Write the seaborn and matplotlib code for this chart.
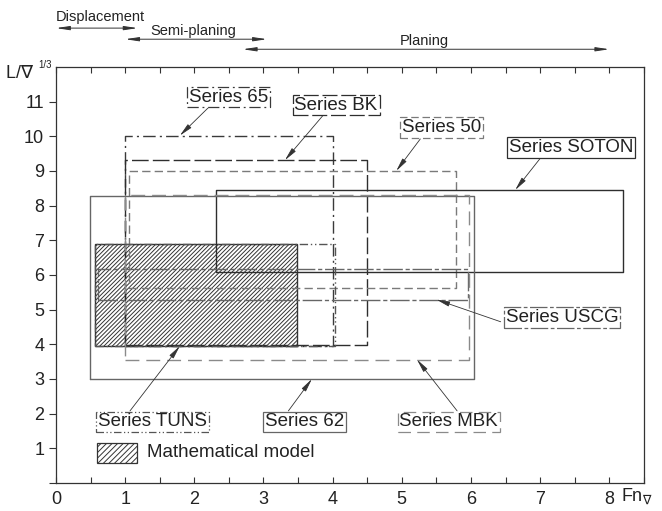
import matplotlib
matplotlib.use('Agg')
import matplotlib.pyplot as plt
from matplotlib.patches import Rectangle
import seaborn as sns

# ranges of the test series (Fn_vol and L/vol^1/3)
series = ['Series 65', 'Series BK', 'Series 50', 'Series SOTON',
          'Series USCG', 'Series 62', 'Series MBK', 'Series TUNS']
fn_min = [1.0, 1.0, 1.06, 2.31, 0.6, 0.49, 1.0, 0.56]
fn_max = [4.0, 4.5, 5.79, 8.2, 5.95, 6.05, 5.97, 4.04]
lv_min = [3.96, 3.99, 5.63, 6.1, 5.29, 3.0, 3.56, 3.95]
lv_max = [10.02, 9.31, 9.0, 8.45, 6.18, 8.27, 8.3, 6.88]

# mathematical model range
model_fn = [0.56, 3.49]
model_lv = [3.94, 6.88]

# speed regimes
regimes = ['Displacement', 'Semi-planing', 'Planing']
regime_from = [0.0, 1.0, 2.7]
regime_to = [1.18, 3.05, 8.0]

x_ticks = [0, 1, 2, 3, 4, 5, 6, 7, 8]
y_ticks = [0, 1, 2, 3, 4, 5, 6, 7, 8, 9, 10, 11]

# drawing styles per series
styles = {
    'Series 65': ('#3a3a3a', (0, (9, 3, 1.5, 3))),
    'Series BK': ('#2e2e2e', (0, (12, 3))),
    'Series 50': ('#7a7a7a', (0, (6, 3))),
    'Series SOTON': ('#2e2e2e', '-'),
    'Series USCG': ('#666666', (0, (14, 2, 3, 2))),
    'Series 62': ('#666666', '-'),
    'Series MBK': ('#8a8a8a', (0, (10, 5))),
    'Series TUNS': ('#555555', (0, (6, 2, 1, 2, 1, 2))),
}
# label centre, arrow tail and arrow tip
labels_at = {
    'Series 65': ((2.5, 11.13), (2.2, 10.82), (1.79, 10.02)),
    'Series BK': ((4.05, 10.9), (3.86, 10.6), (3.31, 9.31)),
    'Series 50': ((5.57, 10.25), (5.27, 9.93), (4.92, 9.0)),
    'Series SOTON': ((7.45, 9.67), (7.0, 9.36), (6.64, 8.45)),
    'Series USCG': ((7.32, 4.78), (6.43, 4.65), (5.5, 5.29)),
    'Series 62': ((3.59, 1.76), (3.36, 2.08), (3.7, 3.0)),
    'Series MBK': ((5.68, 1.76), (5.8, 2.08), (5.22, 3.56)),
    'Series TUNS': ((1.4, 1.76), (1.07, 2.08), (1.79, 3.95)),
}

sns.set_style('ticks')
plt.rcParams['font.family'] = ['Liberation Sans', 'DejaVu Sans']
plt.rcParams['hatch.linewidth'] = 0.7

fig = plt.figure(figsize=(6.62, 5.11), dpi=100)
ax = fig.add_axes([0.0846, 0.0548, 0.888, 0.8142])

ax.add_patch(Rectangle((model_fn[0], model_lv[0]), model_fn[1] - model_fn[0],
                       model_lv[1] - model_lv[0], fill=False, hatch='////////',
                       ec='#333333', lw=1.0, zorder=1))

for i, name in enumerate(series):
    col, ls = styles[name]
    xs = [fn_min[i], fn_max[i], fn_max[i], fn_min[i], fn_min[i]]
    ys = [lv_min[i], lv_min[i], lv_max[i], lv_max[i], lv_min[i]]
    ax.plot(xs, ys, color=col, ls=ls, lw=1.0, zorder=2)
    (cx, cy), tail, tip = labels_at[name]
    ax.annotate('', xy=tip, xytext=tail,
                arrowprops=dict(arrowstyle='-|>,head_width=0.15,head_length=0.8',
                                color='#333333', lw=0.6, shrinkA=0, shrinkB=0),
                zorder=4)
    ax.text(cx, cy, name, ha='center', va='center', fontsize=13.5, color='#222222',
            zorder=5,
            bbox=dict(boxstyle='square,pad=0.1', fc='white', ec=col, ls=ls, lw=0.9))

# legend for the model
ax.add_patch(Rectangle((0.59, 0.58), 0.58, 0.58, fill=False, hatch='//////',
                       ec='#333333', lw=0.9, zorder=3))
ax.text(1.32, 0.87, 'Mathematical model', ha='left', va='center', fontsize=13.5,
        color='#222222')

# speed regime arrows above the axes
regime_y = [13.12, 12.8, 12.51]
regime_text = [(0.64, 13.44), (1.98, 13.05), (5.33, 12.74)]
for i, reg in enumerate(regimes):
    ax.annotate('', xy=(regime_to[i], regime_y[i]), xytext=(regime_from[i], regime_y[i]),
                annotation_clip=False,
                arrowprops=dict(arrowstyle='<|-|>,head_width=0.12,head_length=0.8',
                                color='#333333', lw=0.7, shrinkA=0, shrinkB=0))
    ax.text(regime_text[i][0], regime_text[i][1], reg, ha='center', va='center',
            fontsize=10.5, color='#222222', clip_on=False)

ax.set_xlim(0, 8.5)
ax.set_ylim(0, 12)
ax.set_xticks(x_ticks)
ax.set_xticks([t + 0.5 for t in x_ticks], minor=True)
ax.set_yticks(y_ticks)
ax.set_yticklabels([''] + [str(t) for t in y_ticks[1:]])
ax.tick_params(axis='x', which='both', direction='in', top=True, length=4,
               width=0.8, labelsize=13, pad=6, colors='#333333', labelcolor='#222222')
ax.tick_params(axis='y', direction='out', length=5, width=0.8, labelsize=13,
               colors='#333333', labelcolor='#222222')
for sp in ax.spines.values():
    sp.set_visible(True)
    sp.set_linewidth(0.9)
    sp.set_color('#333333')

fig.text(0.008, 0.857, r'L/$\nabla$', fontsize=13, color='#222222',
         ha='left', va='center')
fig.text(0.058, 0.872, '1/3', fontsize=7, color='#222222', ha='left', va='center')
fig.text(0.938, 0.027, r'Fn$_\nabla$', fontsize=13, color='#222222',
         ha='left', va='center')

fig.savefig('out.png', dpi=100)
